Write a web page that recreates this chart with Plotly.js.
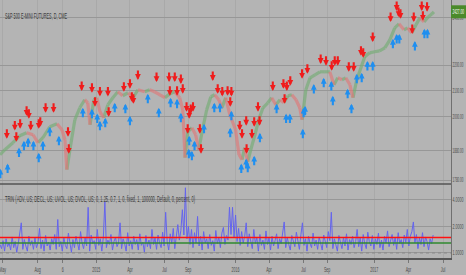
<!DOCTYPE html>
<html><head><meta charset="utf-8">
<script src="https://cdn.plot.ly/plotly-3.0.1.min.js"></script>
<style>html,body{margin:0;padding:0;background:#b4b4b4;}#chart{width:466px;height:275px;}</style>
</head><body><div id="chart"></div>
<script>
// ---- data ----
const priceDates = ["2014-04-24","2014-05-07","2014-05-28","2014-06-15","2014-07-03","2014-07-20","2014-08-02","2014-08-15","2014-09-02","2014-09-21","2014-10-04","2014-10-12","2014-10-17","2014-10-25","2014-11-07","2014-11-20","2014-12-03","2014-12-11","2014-12-17","2014-12-27","2015-01-04","2015-01-12","2015-01-22","2015-02-02","2015-02-15","2015-02-28","2015-03-13","2015-03-27","2015-04-09","2015-04-22","2015-05-10","2015-05-23","2015-06-05","2015-06-19","2015-07-02","2015-07-15","2015-07-28","2015-08-10","2015-08-18","2015-08-24","2015-08-31","2015-09-11","2015-09-21","2015-09-29","2015-10-10","2015-10-20","2015-10-31","2015-11-10","2015-11-21","2015-11-29","2015-12-09","2015-12-20","2016-01-04","2016-01-13","2016-01-21","2016-01-28","2016-02-05","2016-02-13","2016-02-24","2016-03-05","2016-03-16","2016-03-29","2016-04-08","2016-04-19","2016-04-30","2016-05-10","2016-05-21","2016-05-31","2016-06-11","2016-06-21","2016-06-27","2016-07-07","2016-07-18","2016-07-31","2016-08-13","2016-08-26","2016-09-08","2016-09-19","2016-09-29","2016-10-10","2016-10-20","2016-10-31","2016-11-08","2016-11-18","2016-11-29","2016-12-09","2016-12-22","2017-01-04","2017-01-17","2017-01-31","2017-02-13","2017-02-26","2017-03-09","2017-03-22","2017-04-01","2017-04-12","2017-04-23","2017-05-03","2017-05-14","2017-05-25","2017-06-04","2017-06-09"];
const priceClose = [1865.5,1882.6,1907.0,1931.7,1942.4,1935.2,1907.0,1924.6,1963.9,1974.8,1953.1,1917.5,1814.8,1882.6,1989.4,2033.8,2064.0,2052.6,1971.2,2064.0,2071.7,2018.9,1996.7,2045.1,2071.7,2094.6,2079.3,2090.8,2071.7,2102.3,2094.6,2102.3,2094.6,2083.1,2071.7,2087.0,2094.6,2071.7,2026.4,1855.3,1945.9,1960.3,1935.2,1882.6,1960.3,2026.4,2075.5,2083.1,2064.0,2033.8,2071.7,2007.8,1953.1,1865.5,1848.5,1889.6,1841.7,1882.6,1935.2,1989.4,2033.8,2052.6,2071.7,2045.1,2064.0,2052.6,2079.3,2083.1,2064.0,2033.8,1989.4,2102.3,2149.2,2161.1,2173.1,2173.1,2173.1,2121.8,2149.2,2141.4,2149.2,2121.8,2071.7,2141.4,2189.1,2233.9,2250.4,2254.6,2258.7,2271.1,2304.9,2356.3,2373.7,2347.7,2356.3,2334.7,2369.3,2400.0,2382.4,2404.4,2417.8,2427.0];

const sellDates = ["2014-05-12","2014-06-02","2014-06-06","2014-06-16","2014-07-03","2014-07-09","2014-07-14","2014-08-04","2014-08-08","2014-08-22","2014-09-12","2014-10-20","2014-10-22","2014-11-25","2014-12-22","2014-12-30","2015-01-12","2015-02-02","2015-02-04","2015-03-16","2015-04-01","2015-04-06","2015-04-10","2015-04-22","2015-06-10","2015-07-13","2015-07-15","2015-07-28","2015-08-03","2015-08-13","2015-08-18","2015-08-28","2015-08-31","2015-09-04","2015-09-08","2015-09-14","2015-10-02","2015-10-05","2015-11-05","2015-11-18","2015-11-30","2015-12-14","2015-12-21","2015-12-24","2016-01-15","2016-01-21","2016-02-01","2016-02-02","2016-02-16","2016-02-22","2016-03-03","2016-03-07","2016-04-11","2016-05-09","2016-05-12","2016-05-18","2016-05-27","2016-06-27","2016-07-11","2016-08-15","2016-08-29","2016-09-13","2016-09-21","2016-09-29","2016-10-28","2016-11-10","2016-11-29","2016-12-05","2016-12-30","2017-02-15","2017-03-03","2017-03-08","2017-03-13","2017-04-13","2017-04-17","2017-05-08","2017-05-11","2017-05-22"];
const sellPrices = [1921,1950,1910,1957,2004,1993,1950,1957,1964,2015,2015,1928,1869,2098,2091,2038,2076,2076,2000,2095,2106,2056,2049,2141,2133,2133,2079,2133,2079,2125,2087,2019,1939,1993,2011,2019,1939,1869,2137,2087,2076,2079,2038,2076,1950,1921,1968,1869,1921,1964,2019,1968,2098,2106,2049,2098,2118,2145,2165,2205,2197,2177,2197,2197,2173,2173,2238,2230,2296,2382,2431,2404,2396,2330,2382,2431,2387,2427];

const buyDates = ["2014-04-25","2014-05-14","2014-06-13","2014-06-26","2014-07-07","2014-07-21","2014-08-04","2014-08-15","2014-09-02","2014-09-26","2014-11-28","2014-12-22","2015-01-05","2015-01-12","2015-01-26","2015-02-20","2015-03-20","2015-04-01","2015-05-18","2015-06-16","2015-07-17","2015-08-03","2015-08-13","2015-09-03","2015-09-04","2015-09-11","2015-09-18","2015-10-13","2015-11-09","2015-11-24","2015-12-21","2015-12-24","2016-01-19","2016-02-01","2016-02-05","2016-02-22","2016-03-08","2016-04-21","2016-05-16","2016-05-26","2016-06-29","2016-07-01","2016-07-05","2016-07-28","2016-08-23","2016-09-12","2016-09-16","2016-10-25","2016-11-04","2016-11-18","2016-12-01","2016-12-16","2016-12-30","2017-02-21","2017-03-03","2017-03-10","2017-04-20","2017-05-15","2017-05-23"];
const buyPrices = [1818,1835,1890,1914,1925,1914,1872,1914,1964,1932,2034,2030,2012,1986,1997,2053,2049,2004,2087,2034,2072,2068,2015,1886,1932,1879,1914,1975,2053,2053,1960,2023,1835,1852,1838,1862,1942,2049,2012,2012,1957,2034,2041,2125,2149,2137,2079,2106,2049,2165,2169,2217,2217,2309,2330,2330,2300,2352,2352];

const trinStart = "2014-04-24"; // one value every 4 calendar days
const trinValues = [1.25,1.12,1.38,1.05,1.45,1.18,1.30,1.08,1.52,1.15,
1.35,1.02,1.28,1.60,2.20,1.10,1.42,1.20,1.05,1.55,
1.22,1.38,1.10,1.48,1.15,1.30,1.90,1.12,1.40,1.05,
1.58,1.20,1.33,1.08,1.45,1.25,1.62,1.10,2.40,1.18,
1.35,1.05,1.50,1.22,1.12,1.68,1.28,1.02,1.42,1.15,
1.55,1.25,1.08,1.75,1.30,1.12,1.48,1.20,3.30,1.05,
1.60,1.28,1.38,1.10,1.85,1.22,1.45,1.05,1.52,3.80,
1.15,1.40,1.25,1.62,1.08,1.35,1.50,1.18,1.30,2.20,
1.12,1.45,1.28,1.05,1.70,1.20,1.38,1.10,1.55,1.25,
1.42,1.08,1.65,1.22,1.33,1.02,1.58,1.18,1.40,1.12,
1.85,1.25,1.48,1.10,1.60,1.30,1.15,1.72,1.20,2.90,
1.35,1.08,1.65,1.28,1.90,1.12,1.55,2.10,1.40,1.80,
3.10,1.60,5.50,1.45,2.00,1.25,1.85,1.15,1.70,1.30,
2.60,1.20,1.55,1.08,1.75,1.30,1.45,1.12,1.62,1.22,
1.38,1.05,1.80,1.28,1.50,1.15,1.68,1.95,1.25,1.58,
1.40,3.30,1.62,3.30,1.50,2.70,1.35,1.90,1.22,1.75,
1.30,1.55,2.20,1.18,1.65,1.40,1.12,1.85,1.28,1.50,
1.05,1.62,1.22,1.40,1.10,1.78,1.25,1.48,1.08,1.55,
1.20,1.38,1.65,1.12,1.45,1.28,1.70,2.25,1.15,1.50,
1.25,1.08,1.58,1.30,1.18,1.72,1.35,1.10,1.62,2.20,
1.22,1.45,1.05,1.55,1.28,1.15,1.68,1.20,1.40,1.10,
1.52,1.25,1.08,1.60,1.32,1.15,1.75,1.38,2.90,1.12,
1.45,1.22,1.05,1.58,1.30,1.12,1.50,1.20,1.65,1.08,
1.42,1.25,1.55,1.15,1.35,1.85,1.18,1.48,1.05,1.62,
1.28,1.12,1.72,1.35,1.20,1.58,1.10,1.45,1.25,1.68,
1.15,1.40,1.08,1.55,1.30,1.78,1.18,1.45,1.62,1.22,
1.50,1.10,1.70,1.28,1.42,1.15,1.60,1.32,1.85,1.20,
1.55,1.75,2.25,1.30,1.62,1.12,1.48,1.25,1.70,1.18,
1.52,1.35,1.08,1.45,1.28,1.60];
const trinUpper = 1.5, trinLower = 1.3, trinBase = 1.0;

const priceTicks = [2400, 2200, 2100, 2000, 1880, 1780];
const trinTicks = [1, 2, 4];
const tickDates = ["2014-05-01","2014-08-01","2014-10-06","2015-01-02","2015-04-01","2015-07-01","2015-09-01","2016-01-04","2016-04-01","2016-07-01","2016-09-01","2017-01-03","2017-04-03","2017-07-03"];
const tickText = ["May","Aug","6","2015","Apr","Jul","Sep","2016","Apr","Jul","Sep","2017","Apr","Jul"];
const chartTitle = "S&P 500 E-MINI FUTURES, D, CME";
const trinTitle = "TRIN (ADV, US; DECL, US; UVOL, US; DVOL, US; 0, 1.25, 0.7, 1, 0, fixed, 1, 100000, Default, 0, percent, 0)";

// ---- build traces ----
const up = {x: [], y: []}, dn = {x: [], y: []};
for (let i = 1; i < priceClose.length; i++) {
  const t = priceClose[i] >= priceClose[i-1] ? up : dn;
  t.x.push(priceDates[i-1], priceDates[i], null);
  t.y.push(priceClose[i-1], priceClose[i], null);
}
const trinDates = trinValues.map((_, i) => {
  const d = new Date(trinStart + "T00:00:00Z"); d.setUTCDate(d.getUTCDate() + 4 * i);
  return d.toISOString().slice(0, 10);
});
const lastPrice = priceClose[priceClose.length - 1];

const traces = [
  {x: up.x, y: up.y, mode: "lines", line: {color: "rgba(115,172,115,0.65)", width: 3.2}, xaxis: "x", yaxis: "y", hoverinfo: "skip"},
  {x: dn.x, y: dn.y, mode: "lines", line: {color: "rgba(222,120,120,0.65)", width: 3.2}, xaxis: "x", yaxis: "y", hoverinfo: "skip"},
  {x: trinDates, y: trinValues, mode: "lines", line: {color: "#6464ee", width: 1}, xaxis: "x", yaxis: "y2", hoverinfo: "skip"}
];

const labelFont = "Liberation Sans, Arial";
const annotations = [
  {xref: "paper", yref: "paper", x: 0.006, y: 1, xanchor: "left", yanchor: "top", yshift: -9, align: "left", showarrow: false,
   text: chartTitle, font: {family: labelFont, size: 9, color: "#3a3a3a"}},
  {xref: "paper", yref: "paper", x: 0.006, y: (258 - 199) / 258, xanchor: "left", yanchor: "middle", align: "left", showarrow: false,
   text: trinTitle, font: {family: labelFont, size: 8.5, color: "#3a3a3a"}},
  {xref: "paper", yref: "y", x: 1, y: Math.log10(lastPrice), xanchor: "left", yanchor: "middle", align: "left", showarrow: false,
   text: lastPrice.toFixed(2), font: {family: labelFont, size: 6.5, color: "#ffffff"}}
];
sellDates.forEach((d, i) => annotations.push({x: d, y: Math.log10(sellPrices[i]), xref: "x", yref: "y", text: "", showarrow: true,
  arrowhead: 2, arrowsize: 0.55, arrowwidth: 2.1, arrowcolor: "#f01c1c", ax: 0, ay: -11, standoff: 0}));
buyDates.forEach((d, i) => annotations.push({x: d, y: Math.log10(buyPrices[i]), xref: "x", yref: "y", text: "", showarrow: true,
  arrowhead: 2, arrowsize: 0.55, arrowwidth: 2.1, arrowcolor: "#1f8ff0", ax: 0, ay: 11, standoff: 0}));

const split = 74 / 258;
const boxHalf = Math.pow(10, 6.5 / 1250);
const shapes = [
  {type: "line", xref: "paper", yref: "y2", x0: 0, x1: 1, y0: trinBase, y1: trinBase, line: {color: "#8a8a8a", width: 1, dash: "dot"}},
  {type: "line", xref: "paper", yref: "y2", x0: 0, x1: 1, y0: trinLower, y1: trinLower, line: {color: "#2f8a2f", width: 1.6}},
  {type: "line", xref: "paper", yref: "y2", x0: 0, x1: 1, y0: trinUpper, y1: trinUpper, line: {color: "#ff1010", width: 1.6}},
  {type: "line", xref: "paper", yref: "paper", x0: 0, x1: 1, y0: split, y1: split, line: {color: "#555555", width: 1.5}},
  {type: "rect", xref: "paper", yref: "y", x0: 1, x1: 1.04, y0: lastPrice / boxHalf, y1: lastPrice * boxHalf, fillcolor: "#4a8a2a", line: {width: 0}, layer: "above"}
];

const axFont = {family: labelFont, size: 8, color: "#4a4a4a"};
const yFont = {family: labelFont, size: 6.5, color: "#4a4a4a"};
const layout = {
  width: 466, height: 275,
  margin: {l: 0, r: 15, t: 0, b: 17},
  paper_bgcolor: "#b4b4b4", plot_bgcolor: "#b4b4b4",
  showlegend: false, hovermode: false,
  xaxis: {type: "date", range: ["2014-04-24", "2017-07-24"], anchor: "y2", tickmode: "array", tickvals: tickDates, ticktext: tickText,
    tickfont: axFont, ticks: "outside", ticklen: 3, tickcolor: "#777", showgrid: true, gridcolor: "#a9a9a9", gridwidth: 1,
    showline: true, linecolor: "#555", linewidth: 1.5, zeroline: false, automargin: false, ticklabeloverflow: "allow"},
  yaxis: {domain: [split, 1], type: "log", range: [Math.log10(1767.4), Math.log10(2480.3)], side: "right", anchor: "x",
    tickmode: "array", tickvals: priceTicks, ticktext: priceTicks.map(v => v.toFixed(2)), tickfont: yFont,
    showgrid: true, gridcolor: "#979797", gridwidth: 1, showline: true, linecolor: "#707070", zeroline: false,
    ticks: "", ticklen: 0, automargin: false, ticklabeloverflow: "allow"},
  yaxis2: {domain: [0, split], type: "log", range: [Math.log10(0.877), Math.log10(6.07)], side: "right", anchor: "x",
    tickmode: "array", tickvals: trinTicks, ticktext: trinTicks.map(v => v.toFixed(4)), tickfont: yFont,
    showgrid: true, gridcolor: "#979797", gridwidth: 1, showline: true, linecolor: "#707070", zeroline: false,
    ticks: "", ticklen: 0, automargin: false, ticklabeloverflow: "allow"},
  annotations: annotations, shapes: shapes
};

function squeeze(sel, factor, target) {
  document.querySelectorAll(sel).forEach(t => {
    const w = t.getComputedTextLength();
    if (w > 0) {
      t.setAttribute("textLength", (target ? target : w * factor).toFixed(1));
      t.setAttribute("lengthAdjust", "spacingAndGlyphs");
    }
  });
}
function moveLeftTo(sel, left) {
  document.querySelectorAll(sel).forEach(t => {
    const r = t.getBoundingClientRect();
    const x0 = parseFloat(t.getAttribute("x") || "0");
    t.setAttribute("x", (x0 + left - r.left).toFixed(1));
  });
}
Plotly.newPlot("chart", traces, layout, {staticPlot: true, displayModeBar: false}).then(() => {
  squeeze(".xtick text", 0.45);
  squeeze(".ytick text, .y2tick text", 0, 11);
  squeeze('.annotation[data-index="0"] text', 0, 62);
  squeeze('.annotation[data-index="1"] text', 0, 190);
  squeeze('.annotation[data-index="2"] text', 0, 11.5);
  moveLeftTo(".ytick text, .y2tick text", 452.5);
  moveLeftTo('.annotation[data-index="2"] text', 452.5);
});
</script></body></html>
